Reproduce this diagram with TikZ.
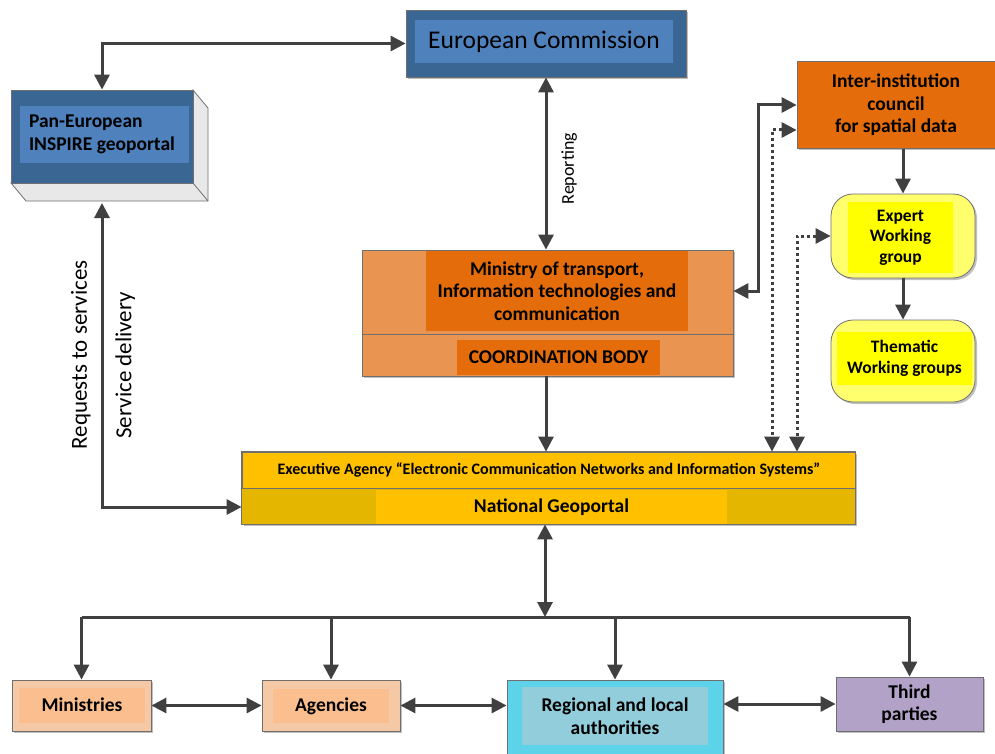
\documentclass[tikz,border=0pt]{standalone}
\usepackage{fontspec}
\setmainfont{Carlito}
\usetikzlibrary{arrows.meta,shadows}

\definecolor{ecdark}{HTML}{3A6694}
\definecolor{eclight}{HTML}{4F81BD}
\definecolor{extrude}{HTML}{E8E8E8}
\definecolor{orlight}{HTML}{E99551}
\definecolor{ordark}{HTML}{E46C0A}
\definecolor{yelpale}{HTML}{FFFF6E}
\definecolor{yelbright}{HTML}{FFFF00}
\definecolor{gold}{HTML}{FFC000}
\definecolor{golddark}{HTML}{E4B600}
\definecolor{peachout}{HTML}{F6C9A6}
\definecolor{peachin}{HTML}{FBBF8F}
\definecolor{cyanout}{HTML}{5CD3E8}
\definecolor{cyanin}{HTML}{92CDDC}
\definecolor{purp}{HTML}{B3A2C7}
\definecolor{arrowgray}{HTML}{404040}
\definecolor{edgegray}{HTML}{6F6F6F}

\tikzset{
  box/.style={draw=edgegray, line width=0.8pt, inner sep=0pt},
  dropsh/.style={drop shadow={shadow xshift=2pt, shadow yshift=-2pt, opacity=0.25, fill=black}},
  inbox/.style={inner sep=0pt, draw=none},
  lbl/.style={font=\fontsize{19.5}{22.5}\selectfont\bfseries, align=center},
  wglbl/.style={font=\fontsize{17.5}{20.5}\selectfont\bfseries, align=center},
  onearrow/.style={-{Triangle[length=15pt,width=15pt]}, line width=3pt, draw=arrowgray},
  biarrow/.style={{Triangle[length=15pt,width=15pt]}-{Triangle[length=15pt,width=15pt]}, line width=3pt, draw=arrowgray},
  dotbi/.style={{Triangle[length=15pt,width=15pt]}-{Triangle[length=15pt,width=15pt]}, line width=3pt, draw=arrowgray, dash pattern=on 3pt off 3pt},
}

\begin{document}
\begin{tikzpicture}[x=1pt, y=-1pt]
%%%%% START %%%%%
\useasboundingbox (0,0) rectangle (995,754);

% European Commission
\node[box, dropsh, fill=ecdark, minimum width=280pt, minimum height=67pt] (ec) at (546,43.5) {};
\node[inbox, fill=eclight, minimum width=258pt, minimum height=43pt, font=\fontsize{25.5}{29}\selectfont] (ectext) at (544,41.5) {European Commission};

% Pan-European geoportal, with its 3D side
\filldraw[fill=extrude, draw=edgegray, line width=0.8pt] (193,90) -- (208,108) -- (208,201) -- (26,201) -- (11,183) -- (193,183) -- cycle;
\draw[edgegray, line width=0.8pt] (193,183) -- (208,201);
\node[box, fill=ecdark, minimum width=182pt, minimum height=93pt] (pan) at (102,136.5) {};
\node[inbox, fill=eclight, text width=151pt, inner xsep=9pt, minimum height=57pt, lbl, align=flush left] (pantext) at (104.5,134.5) {Pan-European\\INSPIRE geoportal};
\coordinate (panbot) at (102,203);

% Ministry / coordination body
\node[box, dropsh, fill=orlight, minimum width=371pt, minimum height=126pt] (mot) at (547.5,313) {};
\node[inbox, fill=ordark, minimum width=262pt, minimum height=80pt, lbl] (mottext) at (557,291) {Ministry of transport,\\Information technologies and\\communication};
\node[inbox, fill=ordark, minimum width=203pt, minimum height=35pt, lbl] (cbtext) at (558.5,357.5) {COORDINATION BODY};
\draw[edgegray, line width=0.8pt] ([yshift=5pt]mot.west |- cbtext.north) -- ([yshift=5pt]mot.east |- cbtext.north);

% council and working groups
\node[box, dropsh, fill=ordark, minimum width=198pt, minimum height=87pt, lbl] (iic) at (896,105) {Inter-institution\\council\\for spatial data};
\node[box, dropsh, rounded corners=22pt, fill=yelpale, minimum width=144pt, minimum height=84pt] (ewg) at (903,236) {};
\node[inbox, fill=yelbright, minimum width=105pt, minimum height=71pt, wglbl] (ewgtext) at (900.5,237.5) {Expert\\Working\\group};
\node[box, dropsh, rounded corners=22pt, fill=yelpale, minimum width=144pt, minimum height=82pt] (twg) at (903,361) {};
\node[inbox, fill=yelbright, minimum width=135pt, minimum height=53pt, wglbl] (twgtext) at (904.5,358.5) {Thematic\\Working groups};

% Executive Agency / National Geoportal
\node[box, dropsh, fill=gold, minimum width=613pt, minimum height=72pt] (exa) at (548.5,488) {};
\node[inbox, font=\fontsize{16}{18}\selectfont\bfseries] (exatext) at (549,470) {Executive Agency “Electronic Communication Networks and Information Systems”};
\fill[golddark] (exa.south west) rectangle (exa.east);
\node[inbox, fill=gold, minimum width=351pt, minimum height=34pt, lbl] (ngtext) at (551.5,507) {National Geoportal};
\draw[edgegray, line width=0.8pt] (exa.south west) rectangle (exa.north east);
\draw[edgegray, line width=0.8pt] (exa.west) -- (exa.east);

% users
\node[box, dropsh, fill=peachout, minimum width=139pt, minimum height=51pt] (min) at (81.5,705.5) {};
\node[inbox, fill=peachin, minimum width=126pt, minimum height=35pt, lbl] (mintext) at (82,705) {Ministries};
\node[box, dropsh, fill=peachout, minimum width=138pt, minimum height=51pt] (age) at (331,705.5) {};
\node[inbox, fill=peachin, minimum width=116pt, minimum height=34pt, lbl] (agetext) at (331,706) {Agencies};
\node[box, dropsh, fill=cyanout, minimum width=216pt, minimum height=78pt] (reg) at (615,719) {};
\node[inbox, fill=cyanin, minimum width=186pt, minimum height=58pt, lbl] (regtext) at (615,716) {Regional and local\\authorities};
\node[box, dropsh, fill=purp, minimum width=147pt, minimum height=54pt, lbl] (thp) at (909.5,704) {Third\\parties};

% connectors
\draw[biarrow] (ec.west) -| (pan.north);
\draw[biarrow] (ec.south) -- (ec.south |- mot.north)
  node[pos=0.53, rotate=90, anchor=north, inner sep=14pt, font=\fontsize{18}{20}\selectfont] (rep) {Reporting};
\draw[onearrow] (mot.south -| ec.south) -- (ec.south |- exa.north);
\draw[biarrow] (panbot) |- (exa.west |- ngtext)
  node[pos=0.25, rotate=90, anchor=south, inner sep=10pt, font=\fontsize{23}{26}\selectfont] (req) {Requests to services}
  node[pos=0.267, rotate=90, anchor=north, inner sep=12pt, font=\fontsize{23}{26}\selectfont] (del) {Service delivery};

\coordinate (j1) at (758,0);
\draw[biarrow] (mot.east |- mottext) -| (j1 |- iic.west) -- (iic.west);
\draw[onearrow] (iic.south -| ewg.north) -- (ewg.north);
\draw[onearrow] (ewg.south) -- (twg.north);

\coordinate (d1) at (772,130);
\coordinate (d2) at (797,0);
\draw[dotbi] (iic.west |- d1) -| (d1 |- exa.north);
\draw[dotbi] (ewg.west) -| (d2 |- exa.north);

\coordinate (bus) at (545,617);
\draw[biarrow] (exa.south -| bus) -- (bus);
\draw[line width=3pt, arrowgray] (min.north |- bus) -- (thp.north |- bus);
\foreach \n in {min,age,reg,thp}
  \draw[onearrow] (\n.north |- bus) -- (\n.north);
\draw[biarrow] (min.east) -- (age.west);
\draw[biarrow] (age.east) -- (age.east -| reg.west);
\draw[biarrow] (reg.east |- thp.west) -- (thp.west);
%%%%% END %%%%%
\end{tikzpicture}
\end{document}
